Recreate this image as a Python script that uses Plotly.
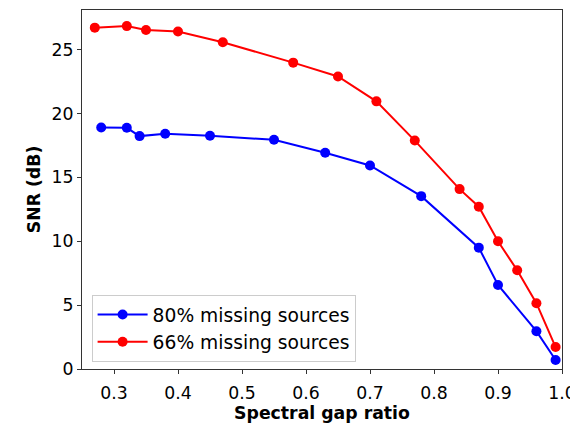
import plotly.graph_objects as go

x_80 = [0.28, 0.32, 0.34, 0.38, 0.45, 0.55, 0.63, 0.70, 0.78, 0.87, 0.90, 0.96, 0.99]
snr_80 = [18.9, 18.88, 18.23, 18.42, 18.26, 17.94, 16.93, 15.93, 13.53, 9.5, 6.58, 2.96, 0.7]

x_66 = [0.27, 0.32, 0.35, 0.40, 0.47, 0.58, 0.65, 0.71, 0.77, 0.84, 0.87, 0.90, 0.93, 0.96, 0.99]
snr_66 = [26.72, 26.84, 26.53, 26.42, 25.58, 23.98, 22.9, 20.95, 17.88, 14.08, 12.7, 10.0, 7.73, 5.15, 1.72]

x_ticks = [0.3, 0.4, 0.5, 0.6, 0.7, 0.8, 0.9, 1.0]
x_tick_labels = ["0.3", "0.4", "0.5", "0.6", "0.7", "0.8", "0.9", "1.0"]
y_ticks = [0, 5, 10, 15, 20, 25]

FONT = "DejaVu Sans"

fig = go.Figure()
fig.add_trace(go.Scatter(x=x_80, y=snr_80, mode="lines+markers", name="80% missing sources",
                         line=dict(color="#0000ff", width=2), marker=dict(size=10, color="#0000ff")))
fig.add_trace(go.Scatter(x=x_66, y=snr_66, mode="lines+markers", name="66% missing sources",
                         line=dict(color="#ff0000", width=2), marker=dict(size=10, color="#ff0000")))

axis_common = dict(showgrid=False, zeroline=False, showline=True, linecolor="#333333", linewidth=1.2,
                   mirror=True, ticks="outside", ticklen=4, tickcolor="#333333",
                   ticklabeloverflow="allow",
                   tickfont=dict(family=FONT, size=17.3, color="black"))

fig.update_xaxes(range=[0.25, 1.0], tickvals=x_ticks, ticktext=x_tick_labels,
                 ticklabelstandoff=4,
                 title=dict(text="<b>Spectral gap ratio</b>", font=dict(family=FONT, size=17.3, color="black"), standoff=2),
                 **axis_common)
fig.update_yaxes(range=[0, 28.1], tickvals=y_ticks,
                 title=dict(text="<b>SNR (dB)</b>", font=dict(family=FONT, size=17.3, color="black"), standoff=6),
                 **axis_common)

fig.update_layout(
    width=570, height=423,
    margin=dict(l=82, r=8, t=10, b=54, autoexpand=False),
    plot_bgcolor="white", paper_bgcolor="white",
    font=dict(family=FONT, size=17.3, color="black"),
    legend=dict(x=0.02, y=0.02, xanchor="left", yanchor="bottom",
                bordercolor="#cccccc", borderwidth=1, bgcolor="rgba(255,255,255,0.8)",
                itemwidth=50,
                font=dict(family=FONT, size=18.7, color="black"), tracegroupgap=2),
    showlegend=True,
)

fig.write_html("out.html", config={"displayModeBar": False},
               post_script="document.body.style.margin='0px';document.body.style.padding='0px';")
